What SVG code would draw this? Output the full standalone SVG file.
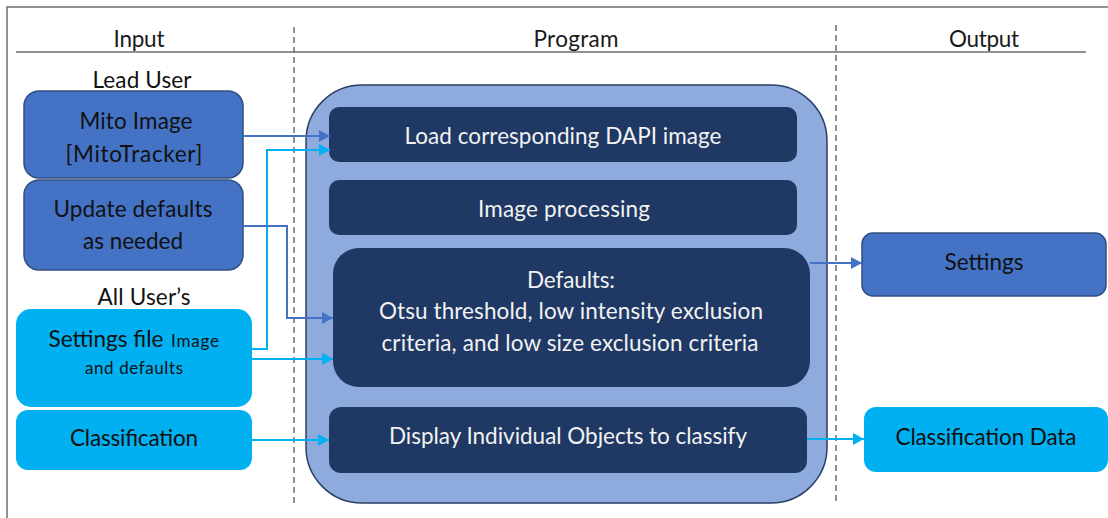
<svg xmlns="http://www.w3.org/2000/svg" width="1108" height="518" viewBox="0 0 1108 518">
  <style>
    text { font-family: Lato, "Open Sans", "Liberation Sans", sans-serif; text-anchor: middle; }
    .hdr { font-size: 22.5px; fill: #1a1a1a; }
    .lbl { font-size: 22.5px; fill: #111111; }
    .inner-txt { font-size: 22.5px; fill: #f2f2f2; }
    .small { font-size: 17px; }
    .blue-box { fill: #4472c4; stroke: #2f4f80; stroke-width: 1.5; }
    .cyan-box { fill: #00b0f0; }
    .prog { fill: #8faadc; stroke: #2b4066; stroke-width: 1.5; }
    .inner { fill: #1f3864; }
    .frame { stroke: #6e6e6e; stroke-width: 1.5; fill: none; }
    .divider { stroke: #6e6e6e; stroke-width: 1.5; stroke-dasharray: 6 4; fill: none; }
    .c-blue { stroke: #4472c4; stroke-width: 2; fill: none; marker-end: url(#head-blue); }
    .c-cyan { stroke: #00b0f0; stroke-width: 2; fill: none; marker-end: url(#head-cyan); }
  </style>
  <defs>
    <marker id="head-blue" markerUnits="userSpaceOnUse" markerWidth="12" markerHeight="12" refX="11" refY="6" orient="auto">
      <path d="M0,0 L11,6 L0,12 z" fill="#4472c4"/>
    </marker>
    <marker id="head-cyan" markerUnits="userSpaceOnUse" markerWidth="12" markerHeight="12" refX="11" refY="6" orient="auto">
      <path d="M0,0 L11,6 L0,12 z" fill="#00b0f0"/>
    </marker>
  </defs>

  <rect width="1108" height="518" fill="#ffffff"/>

  <!-- frame and column headers -->
  <g id="frame">
    <path class="frame" d="M7,518 V7 H1108"/>
    <line class="frame" x1="16" y1="52" x2="1086" y2="52"/>
    <line class="divider" x1="294" y1="27" x2="294" y2="505"/>
    <line class="divider" x1="836" y1="25" x2="836" y2="503"/>
    <text class="hdr" x="139" y="47" textLength="51">Input</text>
    <text class="hdr" x="576" y="47" textLength="85">Program</text>
    <text class="hdr" x="984" y="47" textLength="70">Output</text>
    <text class="lbl" x="142" y="88" textLength="99">Lead User</text>
    <text class="lbl" x="144" y="305" textLength="93">All User’s</text>
  </g>

  <!-- input nodes -->
  <g id="mito-image">
    <rect class="blue-box" x="24" y="91" width="219" height="87" rx="15"/>
    <text class="lbl" x="136" y="129" textLength="113">Mito Image</text>
    <text class="lbl" x="134" y="162" textLength="137">[MitoTracker]</text>
  </g>
  <g id="update-defaults">
    <rect class="blue-box" x="24" y="180" width="219" height="90" rx="15"/>
    <text class="lbl" x="133" y="217" textLength="159">Update defaults</text>
    <text class="lbl" x="133" y="249" textLength="100">as needed</text>
  </g>
  <g id="settings-file">
    <rect class="cyan-box" x="16" y="309" width="236" height="98" rx="15"/>
    <text class="lbl" x="106" y="347" textLength="115">Settings file</text>
    <text class="lbl small" x="195" y="347" textLength="48">Image</text>
    <text class="lbl small" x="134" y="374" textLength="98">and defaults</text>
  </g>
  <g id="classification">
    <rect class="cyan-box" x="16" y="410" width="236" height="60" rx="12"/>
    <text class="lbl" x="134" y="446" textLength="128">Classification</text>
  </g>

  <!-- program container and its steps -->
  <g id="program">
    <rect class="prog" x="306" y="85" width="521" height="418" rx="56"/>
  </g>
  <g id="load-dapi">
    <rect class="inner" x="329" y="107" width="468" height="55" rx="10"/>
    <text class="inner-txt" x="563" y="144" textLength="317">Load corresponding DAPI image</text>
  </g>
  <g id="image-processing">
    <rect class="inner" x="329" y="180" width="468" height="55" rx="10"/>
    <text class="inner-txt" x="564" y="217" textLength="172">Image processing</text>
  </g>
  <g id="defaults">
    <rect class="inner" x="333" y="248" width="477" height="139" rx="26"/>
    <text class="inner-txt" x="571" y="288" textLength="88">Defaults:</text>
    <text class="inner-txt" x="571" y="319" textLength="384">Otsu threshold, low  intensity exclusion</text>
    <text class="inner-txt" x="570" y="351" textLength="377">criteria, and low size exclusion criteria</text>
  </g>
  <g id="display-objects">
    <rect class="inner" x="329" y="407" width="478" height="66" rx="12"/>
    <text class="inner-txt" x="568" y="444" textLength="358">Display Individual Objects to classify</text>
  </g>

  <!-- output nodes -->
  <g id="settings-out">
    <rect class="blue-box" x="862" y="233" width="244" height="63" rx="11"/>
    <text class="lbl" x="984" y="270" textLength="79">Settings</text>
  </g>
  <g id="classification-data">
    <rect class="cyan-box" x="864" y="407" width="244" height="65" rx="12"/>
    <text class="lbl" x="986" y="445" textLength="181">Classification Data</text>
  </g>

  <!-- connectors -->
  <g id="connectors">
    <path class="c-blue" d="M243,136 H330"/>
    <path class="c-cyan" d="M252,349 H267 V150 H330"/>
    <path class="c-blue" d="M243,226 H287 V318 H333"/>
    <path class="c-cyan" d="M252,359 H333"/>
    <path class="c-cyan" d="M252,440 H329"/>
    <path class="c-blue" d="M810,263 H862"/>
    <path class="c-cyan" d="M807,439 H864"/>
  </g>
</svg>
